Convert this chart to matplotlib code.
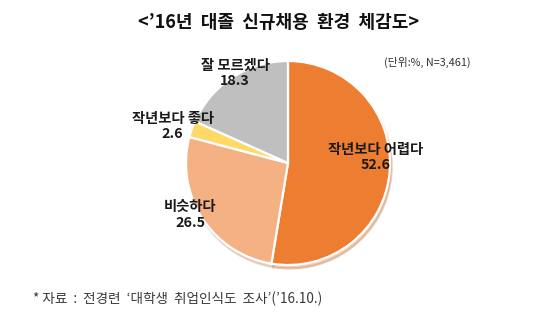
import matplotlib
matplotlib.use("Agg")
import matplotlib.pyplot as plt

plt.rcParams['font.family'] = ['Noto Sans CJK KR', 'DejaVu Sans']

# Survey responses (%), drawn clockwise from 12 o'clock
categories = ["작년보다 어렵다", "비슷하다", "작년보다 좋다", "잘 모르겠다"]
values = [52.6, 26.5, 2.6, 18.3]
colors = ["#ED7D31", "#F4B183", "#FFD966", "#BFBFBF"]

title = "<’16년  대졸  신규채용  환경  체감도>"
unit_note = "(단위:%, N=3,461)"
source_note = "* 자료  :  전경련  ‘대학생  취업인식도  조사’(’16.10.)"

# label anchor points in pie data units (radius = 1)
label_pos = [(0.86, 0.05), (-0.96, -0.51), (-1.13, 0.36), (-0.52, 0.88)]

fig = plt.figure(figsize=(5.6, 3.23), dpi=100)
fig.patch.set_facecolor("white")

W, H = 560, 323
cx, cy, r = 288, 163, 102
ax = fig.add_axes([(cx - r) / W, (H - cy - r) / H, 2 * r / W, 2 * r / H])
ax.set_aspect("equal")
ax.axis("off")

wedges, _ = ax.pie(
    values,
    colors=colors,
    startangle=90,
    counterclock=False,
    radius=1.0,
    wedgeprops=dict(edgecolor="white", linewidth=1.6),
    shadow=dict(ox=0.012, oy=-0.025, shade=0.2, alpha=0.3),
)
ax.set_xlim(-1, 1)
ax.set_ylim(-1, 1)

for (x, y), cat, v in zip(label_pos, categories, values):
    ax.text(x, y, f"{cat}\n{v:.1f}", ha="center", va="center",
            fontsize=10.3, fontweight="bold", color="#1a1a1a",
            linespacing=1.1, clip_on=False)

fig.text(279 / W, 1 - 22 / H, title, ha="center", va="center",
         fontsize=13, fontweight="bold", color="#111111")
fig.text(427 / W, 1 - 62 / H, unit_note, ha="center", va="center",
         fontsize=7.8, color="#333333")
fig.text(33 / W, 1 - 299 / H, source_note, ha="left", va="center",
         fontsize=9.8, color="#3a3a3a", fontweight="light")

fig.savefig("out.png", dpi=100, facecolor="white")
